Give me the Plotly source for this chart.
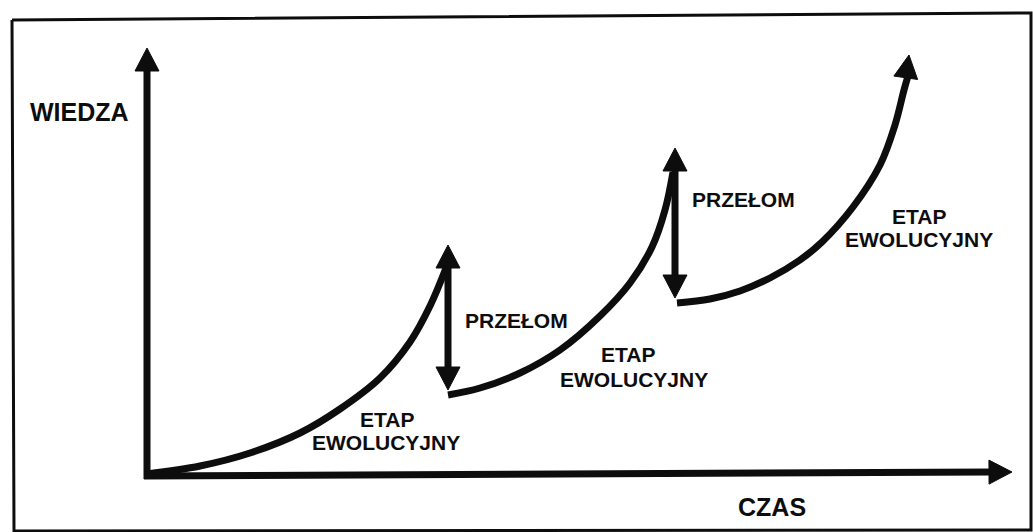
import numpy as np
import plotly.graph_objects as go

W, H = 1033, 532

# ---- diagram data (figure coordinates, y measured downward) ----
curve1_x = [147, 200, 250, 300, 340, 380, 410, 430, 446]
curve1_y = [474, 466, 453, 433, 409, 378, 342, 306, 268]

curve2_x = [448, 480, 520, 560, 600, 630, 652, 665, 673]
curve2_y = [395, 388, 373, 350, 316, 283, 247, 210, 172]

curve3_x = [677, 710, 740, 770, 800, 822, 853, 880, 895, 904]
curve3_y = [303, 299, 291, 278, 260, 242, 207, 165, 125, 90]
curve3_tip = (909, 55)

breaks_x = [448, 675]
breaks_top = [245, 148]
breaks_bottom = [390, 298]

axis_origin = (147, 476)
axis_y_tip = (147, 48)
axis_x_tip = (1012, 472)

labels_text = ["WIEDZA", "CZAS", "PRZEŁOM", "PRZEŁOM",
               "ETAP", "EWOLUCYJNY", "ETAP", "EWOLUCYJNY", "ETAP", "EWOLUCYJNY"]
labels_x = [79, 772, 516, 743, 387, 386, 628, 634, 919, 919]
labels_y = [112, 507, 320, 199, 419, 442, 354, 379, 216, 239]
labels_size = [25, 25, 21, 21, 21, 21, 21, 21, 21, 21]

frame_x = [12, 1031, 1031, 14, 12]
frame_y = [20, 13, 530, 531, 20]

INK = "#0d0d0d"
LW = 7
HEAD_L = 23
HEAD_W = 12


def head(tip, frm):
    tip = np.array(tip, float)
    frm = np.array(frm, float)
    d = tip - frm
    d /= np.linalg.norm(d)
    p = np.array([-d[1], d[0]])
    base = tip - HEAD_L * d
    a = base + HEAD_W * p
    b = base - HEAD_W * p
    return [tip[0], a[0], b[0], tip[0]], [tip[1], a[1], b[1], tip[1]]


fig = go.Figure()


def add_line(xs, ys, shape="linear", width=LW):
    fig.add_trace(go.Scatter(x=xs, y=ys, mode="lines",
                             line=dict(color=INK, width=width, shape=shape, smoothing=1.0),
                             hoverinfo="skip", showlegend=False))


def add_head(tip, frm):
    hx, hy = head(tip, frm)
    fig.add_trace(go.Scatter(x=hx, y=hy, mode="lines", fill="toself",
                             fillcolor=INK, line=dict(color=INK, width=1),
                             hoverinfo="skip", showlegend=False))


# frame
add_line(frame_x, frame_y, width=3)

# axes
ox, oy = axis_origin
add_line([ox, axis_y_tip[0]], [oy + 3, axis_y_tip[1] + HEAD_L - 2])
add_head(axis_y_tip, (ox, oy))
add_line([ox - 3, axis_x_tip[0] - HEAD_L + 2], [oy, axis_x_tip[1]])
add_head(axis_x_tip, (ox, oy))

# evolutionary curves
add_line(curve1_x, curve1_y, shape="spline")
add_line(curve2_x, curve2_y, shape="spline")
add_line(curve3_x + [curve3_tip[0] - 1], curve3_y + [curve3_tip[1] + HEAD_L - 2], shape="spline")
add_head(curve3_tip, (curve3_x[-1], curve3_y[-1]))

# breakthrough double arrows
for bx, bt, bb in zip(breaks_x, breaks_top, breaks_bottom):
    add_line([bx, bx], [bt + HEAD_L - 2, bb - HEAD_L + 2])
    add_head((bx, bt), (bx, bb))
    add_head((bx, bb), (bx, bt))

# labels
for t, x, y, s in zip(labels_text, labels_x, labels_y, labels_size):
    fig.add_annotation(x=x, y=y, text="<b>" + t + "</b>", showarrow=False,
                       xanchor="center", yanchor="middle",
                       font=dict(family="Liberation Sans, Arial, sans-serif", size=s, color=INK))

fig.update_layout(
    width=W, height=H,
    margin=dict(l=0, r=0, t=0, b=0),
    paper_bgcolor="white", plot_bgcolor="white",
    xaxis=dict(range=[0, W], visible=False, fixedrange=True),
    yaxis=dict(range=[H, 0], visible=False, fixedrange=True),
    showlegend=False,
)

fig.write_html("out.html", config={"displayModeBar": False},
               post_script="document.body.style.margin='0px';document.body.style.overflow='hidden';")
